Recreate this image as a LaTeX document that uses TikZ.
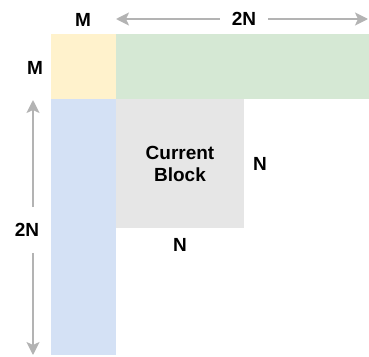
\documentclass[tikz,border=0pt]{standalone}
\usepackage{fontspec}
\setmainfont{Liberation Sans}
\usetikzlibrary{arrows.meta, positioning}
\definecolor{blkorange}{HTML}{FFF2CC}
\definecolor{blkgreen}{HTML}{D5E8D4}
\definecolor{blkblue}{HTML}{D4E1F5}
\definecolor{blkgray}{HTML}{E6E6E6}
\definecolor{dimgray}{HTML}{B3B3B3}

\begin{document}
\begin{tikzpicture}[x=1pt,y=-1pt,
    blk/.style={inner sep=0pt,outer sep=0pt,anchor=north west},
    lbl/.style={font=\fontsize{19}{22}\selectfont\bfseries},
    dim/.style={draw=dimgray,line width=1.8pt,-{Stealth[length=13pt,width=13pt,inset=3pt]}}]

\useasboundingbox (0,0) rectangle (369,356);

\node[blk,fill=blkorange,minimum width=65pt,minimum height=65pt] (corner) at (51,34) {};
\node[blk,fill=blkgreen,minimum width=253pt,minimum height=65pt] (rowblk) at (116,34) {};
\node[blk,fill=blkblue,minimum width=65pt,minimum height=256pt] (colblk) at (51,99) {};
\node[blk,fill=blkgray,minimum width=128pt,minimum height=129pt,align=center,lbl] (cur) at (116,99) {Current\\Block};

\node[lbl] (mtop) at (83,20) {M};
\node[lbl] (mleft) at (35,68) {M};
\node[lbl] (nright) at (260,164) {N};
\node[lbl] (nbottom) at (180,245) {N};

\node[lbl,inner xsep=12pt] (twontop) at (244,19) {2N};
\node[lbl,inner ysep=16pt] (twonleft) at (27,230) {2N};

\coordinate (topl) at (116,19);
\coordinate (topr) at (368,19);
\coordinate (leftt) at (33,100);
\coordinate (leftb) at (33,355);

\draw[dim] (twontop) -- (topl);
\draw[dim] (twontop) -- (topr);
\draw[dim] (twonleft.north -| leftt) -- (leftt);
\draw[dim] (twonleft.south -| leftb) -- (leftb);
\end{tikzpicture}
\end{document}
